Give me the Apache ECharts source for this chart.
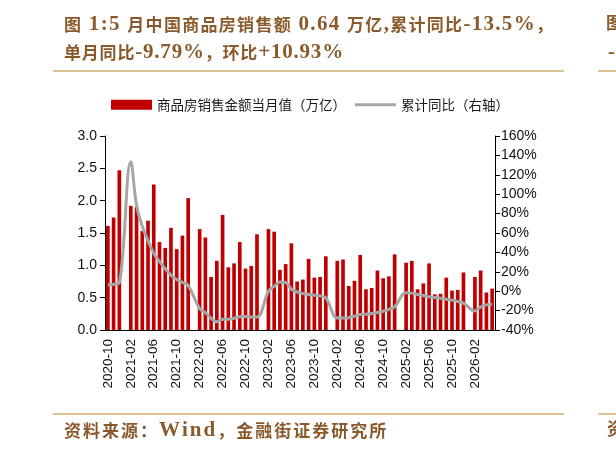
<!DOCTYPE html>
<html>
<head>
<meta charset="utf-8">
<script src="https://cdn.jsdelivr.net/npm/echarts@6/dist/echarts.min.js"></script>
<style>
  html, body { margin: 0; padding: 0; background: #fff; }
  #main { width: 616px; height: 455px; }
</style>
</head>
<body>
<div id="main"></div>
<script>
// 月份（1月与2月合并，1月为空）
var months = [
    '2020-10', '2020-11', '2020-12',
    '2021-01', '2021-02', '2021-03', '2021-04', '2021-05', '2021-06', '2021-07', '2021-08', '2021-09', '2021-10', '2021-11', '2021-12',
    '2022-01', '2022-02', '2022-03', '2022-04', '2022-05', '2022-06', '2022-07', '2022-08', '2022-09', '2022-10', '2022-11', '2022-12',
    '2023-01', '2023-02', '2023-03', '2023-04', '2023-05', '2023-06', '2023-07', '2023-08', '2023-09', '2023-10', '2023-11', '2023-12',
    '2024-01', '2024-02', '2024-03', '2024-04', '2024-05', '2024-06', '2024-07', '2024-08', '2024-09', '2024-10', '2024-11', '2024-12',
    '2025-01', '2025-02', '2025-03', '2025-04', '2025-05', '2025-06', '2025-07', '2025-08', '2025-09', '2025-10', '2025-11', '2025-12',
    '2026-01', '2026-02', '2026-03', '2026-04', '2026-05'
];

// 商品房销售金额当月值（万亿）
var salesMonthly = [
    1.61, 1.74, 2.47,
    null, 1.92, 1.90, 1.53, 1.69, 2.25, 1.36, 1.27, 1.58, 1.25, 1.46, 2.04,
    null, 1.56, 1.43, 0.82, 1.07, 1.78, 0.97, 1.03, 1.36, 0.95, 0.99, 1.48,
    null, 1.56, 1.52, 0.93, 1.02, 1.34, 0.75, 0.78, 1.10, 0.81, 0.82, 1.14,
    null, 1.07, 1.09, 0.68, 0.76, 1.16, 0.63, 0.65, 0.92, 0.80, 0.83, 1.17,
    null, 1.04, 1.07, 0.63, 0.72, 1.03, 0.55, 0.56, 0.81, 0.61, 0.62, 0.89,
    null, 0.82, 0.92, 0.58, 0.64
];

// 累计同比（%，右轴）
var cumYoY = [
    6.3, 7.2, 8.7,
    null, 133.4, 88.5, 67.0, 52.0, 39.0, 30.7, 23.0, 16.6, 12.0, 9.0, 6.0,
    null, -18.0, -22.0, -28.0, -31.5, -28.9, -28.8, -27.9, -26.3, -26.1, -26.6, -26.7,
    null, 0.0, 5.0, 9.5, 9.0, 2.0, -0.8, -2.3, -3.4, -4.2, -4.8, -6.8,
    null, -27.6, -27.6, -27.3, -25.8, -24.1, -23.7, -23.0, -22.0, -20.6, -18.7, -16.1,
    null, -1.6, -2.0, -3.4, -4.4, -5.8, -6.5, -7.2, -8.2, -9.2, -10.6, -12.3,
    null, -20.3, -16.1, -14.1, -13.5
];

var titleLines = ['图 1:5 月中国商品房销售额 0.64 万亿,累计同比-13.5%，', '单月同比-9.79%，环比+10.93%'];
var sourceText = '资料来源：Wind，金融街证券研究所';

var brown = '#8a5a2c';
var gold = '#dcc393';

// 中文用黑体，英文数字用衬线体，每个字之间留一点间距（模拟两端对齐）
function richStyles(gap) {
    return {
        c: { fontSize: 17, fontWeight: 'bold', fontFamily: "'Noto Sans CJK SC', sans-serif", fill: brown, padding: [0, gap / 2] },
        l: { fontSize: 21, fontWeight: 'bold', fontFamily: "'Liberation Serif', serif", fill: brown, padding: [0, gap / 2] }
    };
}
function toRich(str) {
    var out = '';
    for (var i = 0; i < str.length; i++) {
        var ch = str[i];
        out += (ch.charCodeAt(0) > 0x2e80 ? '{c|' : '{l|') + ch + '}';
    }
    return out;
}

var chart = echarts.init(document.getElementById('main'), null, { renderer: 'canvas' });

chart.setOption({
    backgroundColor: '#fff',
    animation: false,
    graphic: [
        { type: 'text', left: 64, top: 14, style: { text: toRich(titleLines[0]), rich: richStyles(1.3) } },
        { type: 'text', left: 64, top: 42, style: { text: toRich(titleLines[1]), rich: richStyles(0.8) } },
        { type: 'rect', shape: { x: 53, y: 70, width: 511, height: 2 }, style: { fill: gold } },
        { type: 'rect', shape: { x: 598, y: 70, width: 18, height: 2 }, style: { fill: gold } },
        { type: 'text', left: 606, top: 14, style: { text: toRich('图'), rich: richStyles(0) } },
        { type: 'text', left: 608, top: 42, style: { text: toRich('-'), rich: richStyles(0) } },
        { type: 'rect', shape: { x: 53, y: 413, width: 511, height: 2 }, style: { fill: gold } },
        { type: 'rect', shape: { x: 598, y: 413, width: 18, height: 2 }, style: { fill: gold } },
        { type: 'text', left: 64, top: 420, style: { text: toRich(sourceText), rich: richStyles(2) } },
        { type: 'text', left: 607, top: 420, style: { text: toRich('资'), rich: richStyles(0) } }
    ],
    legend: {
        left: 106,
        top: 93,
        itemWidth: 41,
        itemHeight: 10,
        itemGap: 9,
        textStyle: { fontSize: 13.5, color: '#1a1a1a', fontFamily: "'Noto Sans CJK SC', sans-serif" },
        data: [
            { name: '商品房销售金额当月值（万亿）', icon: 'rect' },
            // 只画一条灰线，不要圆点
            { name: '累计同比（右轴）', icon: 'path://M0,0L0.01,0L0,0.01Z M0,3.6L41,3.6L41,6.4L0,6.4Z M41,10L40.99,10L41,9.99Z' }
        ]
    },
    grid: {
        left: 105,
        right: 121,
        top: 136,
        bottom: 125,
        containLabel: false
    },
    xAxis: {
        type: 'category',
        data: months,
        boundaryGap: true,
        axisLine: { lineStyle: { color: '#000', width: 1 } },
        axisTick: { interval: 3, length: 5, lineStyle: { color: '#000' } },
        axisLabel: {
            interval: 3,
            rotate: 90,
            margin: 9,
            color: '#111',
            fontSize: 13.5,
            fontFamily: "'Liberation Sans', Arial, sans-serif"
        },
        splitLine: { show: false }
    },
    yAxis: [
        {
            type: 'value',
            min: 0,
            max: 3,
            interval: 0.5,
            axisLine: { show: true, lineStyle: { color: '#000', width: 1 } },
            axisTick: { show: true, length: 5, lineStyle: { color: '#000' } },
            axisLabel: {
                margin: 8,
                color: '#111',
                fontSize: 14,
                fontFamily: "'Liberation Sans', Arial, sans-serif",
                formatter: function (v) { return v.toFixed(1); }
            },
            splitLine: { show: false }
        },
        {
            type: 'value',
            min: -40,
            max: 160,
            interval: 20,
            position: 'right',
            axisLine: { show: true, lineStyle: { color: '#000', width: 1 } },
            axisTick: { show: true, length: 5, lineStyle: { color: '#000' } },
            axisLabel: {
                margin: 6,
                color: '#111',
                fontSize: 14,
                fontFamily: "'Liberation Sans', Arial, sans-serif",
                formatter: '{value}%'
            },
            splitLine: { show: false }
        }
    ],
    series: [
        {
            name: '商品房销售金额当月值（万亿）',
            type: 'bar',
            data: salesMonthly,
            yAxisIndex: 0,
            barWidth: '64%',
            itemStyle: { color: '#c00000' }
        },
        {
            name: '累计同比（右轴）',
            type: 'line',
            data: cumYoY,
            yAxisIndex: 1,
            smooth: 0.4,
            connectNulls: true,
            symbol: 'none',
            lineStyle: { color: '#a6a6a6', width: 3 },
            itemStyle: { color: '#a6a6a6' }
        }
    ]
});
</script>
</body>
</html>
